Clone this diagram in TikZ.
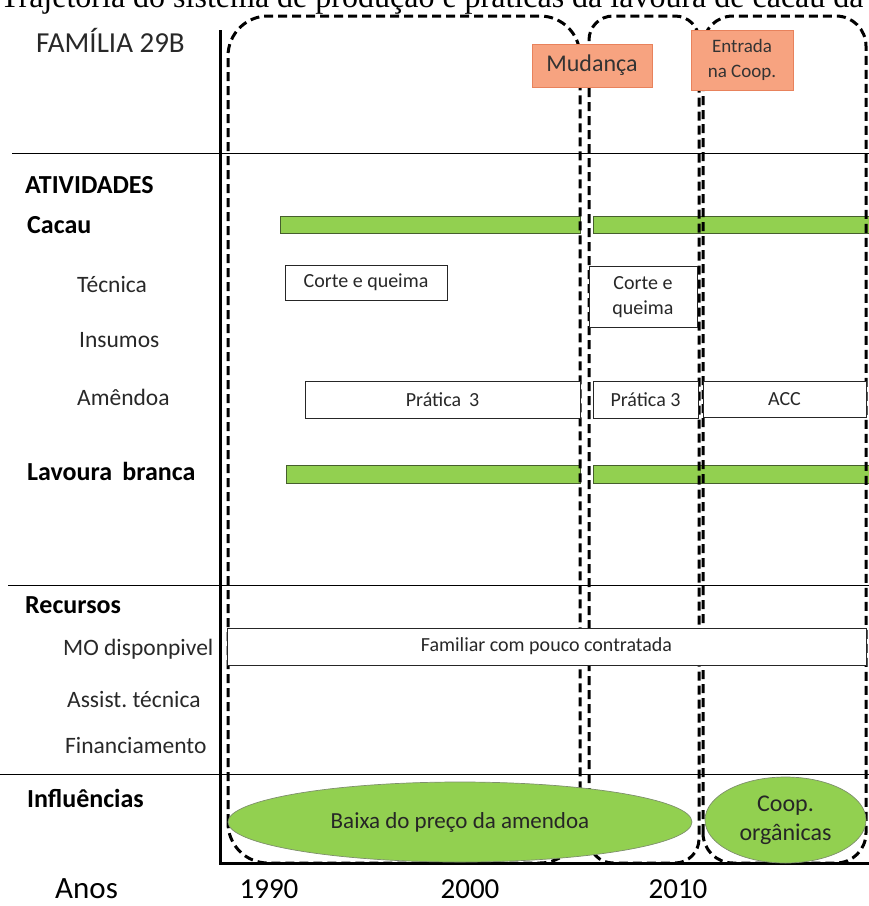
\documentclass[tikz,border=0pt]{standalone}
\usepackage{fontspec}
\setmainfont{Carlito}
\newfontfamily\captionfont{Liberation Serif}
\usetikzlibrary{shapes.geometric}

\definecolor{bargreen}{RGB}{146,208,80}
\definecolor{bargreenline}{RGB}{70,95,45}
\definecolor{boxorange}{RGB}{247,163,128}
\definecolor{boxorangeline}{RGB}{232,130,92}
\definecolor{labelgrey}{RGB}{40,40,40}

\tikzset{
  period/.style={draw=black, line width=3pt, dash pattern=on 9pt off 5pt},
  gridline/.style={draw=black, line width=0.9pt},
  headlabel/.style={anchor=base west, font=\bfseries\fontsize{26}{28}\selectfont, text=black, inner sep=0},
  sublabel/.style={anchor=base west, font=\fontsize{23.5}{26}\selectfont, text=labelgrey, inner sep=0},
  activitybar/.style={draw=bargreenline, line width=1pt, fill=bargreen, inner sep=0},
  practicebox/.style={draw=black!85, line width=1pt, fill=white, inner sep=0,
    font=\fontsize{20}{25}\selectfont, text=labelgrey},
  eventbox/.style={draw=boxorangeline, line width=1pt, fill=boxorange, inner sep=0,
    text=black!80},
  influence/.style={ellipse, draw=bargreenline!70, line width=0.7pt, fill=bargreen, inner sep=0,
    text=black!85},
  yearlabel/.style={anchor=base, font=\fontsize{29}{32}\selectfont, text=black, inner sep=0},
}

\begin{document}
\begin{tikzpicture}[x=1pt, y=-1pt]
  \useasboundingbox (0,0) rectangle (869,906);
  \clip (0,0) rectangle (869,906);

  % caption line running above the chart
  \node[anchor=base west, inner sep=0, font=\captionfont\fontsize{32}{34}\selectfont]
    (caption) at (0,7) {Trajetória do sistema de produção e práticas da lavoura de cacau da};

  % section separators
  \coordinate (sepA-l) at (12,153);  \coordinate (sepA-r) at (869,153);
  \coordinate (sepB-l) at (8,585);   \coordinate (sepB-r) at (869,585);
  \coordinate (sepC-l) at (0,774);   \coordinate (sepC-r) at (869,774);
  \draw[gridline] (sepA-l) -- (sepA-r);
  \draw[gridline] (sepB-l) -- (sepB-r);
  \draw[gridline] (sepC-l) -- (sepC-r);

  % activity bars
  \node[activitybar, minimum width=300, minimum height=17] (cacauA) at (430,224.5) {};
  \node[activitybar, minimum width=276, minimum height=17] (cacauB) at (731,224.5) {};
  \node[activitybar, minimum width=294, minimum height=18] (lavA) at (433,474) {};
  \node[activitybar, minimum width=276, minimum height=18] (lavB) at (731,474) {};

  % periods
  \draw[period, rounded corners=40pt] (228,863) rectangle (580,16);
  \draw[period, rounded corners=24pt] (589,863) rectangle (699,16);
  \draw[period, rounded corners=30pt] (703,863) rectangle (866,16);

  % time axis
  \coordinate (axtop) at (220,30);
  \coordinate (axorigin) at (220,863);
  \coordinate (axend) at (869,863);
  \draw[line width=3pt] (axtop) -- (axorigin) -- (axend);

  % row labels
  \node[anchor=base west, inner sep=0, font=\fontsize{29}{30}\selectfont, text=labelgrey]
    (familia) at (36,52) {FAMÍLIA 29B};
  \node[headlabel] (atividades) at (25,193) {ATIVIDADES};
  \node[headlabel] (cacau) at (27,233) {Cacau};
  \node[sublabel] (tecnica) at (77,292) {Técnica};
  \node[sublabel] (insumos) at (79,347) {Insumos};
  \node[sublabel] (amendoa) at (77,405) {Amêndoa};
  \node[headlabel] (lavoura) at (27,480) {Lavoura\, branca};
  \node[headlabel] (recursos) at (25,613) {Recursos};
  \node[sublabel] (mo) at (63,655) {MO disponpivel};
  \node[sublabel] (assist) at (67,707) {Assist.\ técnica};
  \node[sublabel] (financ) at (65,753) {Financiamento};
  \node[headlabel] (influencias) at (27,807) {Influências};

  % practices
  \node[practicebox, minimum width=162, minimum height=35] (corteA) at (366,282.5) {Corte e queima};
  \node[practicebox, align=center, minimum width=108, minimum height=61] (corteB) at (643,297) {Corte e\\queima};
  \node[practicebox, minimum width=275, minimum height=37] (praticaA) at (442.5,399.5) {Prática\, 3};
  \node[practicebox, minimum width=105, minimum height=37] (praticaB) at (645.5,399.5) {Prática 3};
  \node[practicebox, minimum width=163, minimum height=36] (acc) at (784.5,399) {ACC};
  \node[practicebox, minimum width=639, minimum height=37] (familiar) at (546.5,646.5) {Familiar com pouco contratada};

  % influences
  \node[influence, minimum width=464, minimum height=80, font=\fontsize{23}{27}\selectfont]
    (baixa) at (460,822) {Baixa do preço da amendoa};
  \node[influence, align=center, minimum width=161, minimum height=86, font=\fontsize{24}{29}\selectfont]
    (coop) at (785.5,820) {Coop.\\orgânicas};

  % turning points
  \node[eventbox, minimum width=120, minimum height=43, font=\fontsize{24}{26}\selectfont]
    (mudanca) at (592,65.5) {Mudança};
  \node[eventbox, align=center, minimum width=102, minimum height=60, font=\fontsize{19}{25}\selectfont]
    (entrada) at (742,60) {Entrada\\na Coop.};

  % years
  \node[anchor=base west, inner sep=0, font=\fontsize{31}{32}\selectfont, text=black]
    (anos) at (55,898) {Anos};
  \node[yearlabel] (y1990) at (269,898) {1990};
  \node[yearlabel] (y2000) at (470,898) {2000};
  \node[yearlabel] (y2010) at (678,898) {2010};
\end{tikzpicture}
\end{document}
